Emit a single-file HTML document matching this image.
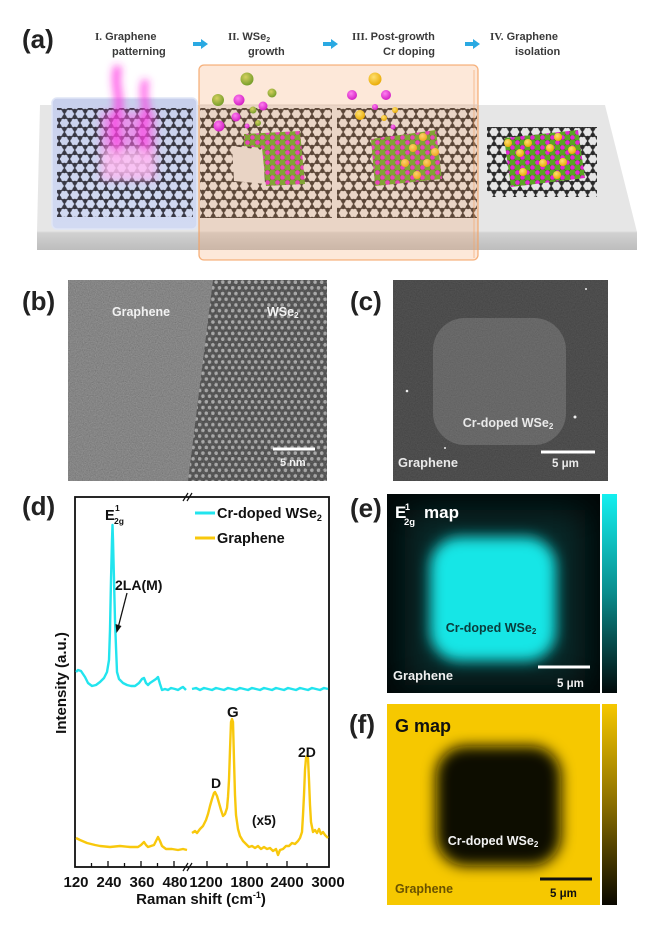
<!DOCTYPE html>
<html><head><meta charset="utf-8"><style>
html,body{margin:0;padding:0;background:#fff;}
svg{display:block;font-family:"Liberation Sans",Arial,sans-serif;}
</style></head><body>
<svg width="650" height="925" viewBox="0 0 650 925" xmlns="http://www.w3.org/2000/svg">
<defs>
<pattern id="hex" patternUnits="userSpaceOnUse" width="10.4" height="18" x="0" y="0">
<path d="M5.2,0 L10.4,3 L10.4,9 L5.2,12 L0,9 L0,3 Z M5.2,12 L5.2,18" fill="none" stroke="#2f2f2f" stroke-width="1.6"/>
<g fill="#2a2a2a"><circle cx="5.2" cy="0" r="2.2"/><circle cx="10.4" cy="3" r="2.2"/><circle cx="10.4" cy="9" r="2.2"/><circle cx="5.2" cy="12" r="2.2"/><circle cx="0" cy="9" r="2.2"/><circle cx="0" cy="3" r="2.2"/><circle cx="5.2" cy="18" r="2.2"/></g>
</pattern>
<pattern id="hexb" patternUnits="userSpaceOnUse" width="10.4" height="18" x="2" y="0">
<path d="M5.2,0 L10.4,3 L10.4,9 L5.2,12 L0,9 L0,3 Z M5.2,12 L5.2,18" fill="none" stroke="#3c3c48" stroke-width="1.6"/>
<g fill="#383844"><circle cx="5.2" cy="0" r="2.2"/><circle cx="10.4" cy="3" r="2.2"/><circle cx="10.4" cy="9" r="2.2"/><circle cx="5.2" cy="12" r="2.2"/><circle cx="0" cy="9" r="2.2"/><circle cx="0" cy="3" r="2.2"/><circle cx="5.2" cy="18" r="2.2"/></g>
</pattern>
<pattern id="wse" patternUnits="userSpaceOnUse" width="10" height="10">
<rect width="10" height="10" fill="#3d7f16"/>
<circle cx="2.5" cy="2.5" r="3.4" fill="#5aa524"/><circle cx="7.5" cy="7.5" r="3.4" fill="#5aa524"/>
<circle cx="7.5" cy="2.5" r="2.3" fill="#e424d4"/><circle cx="2.5" cy="7.5" r="2.3" fill="#e424d4"/>
</pattern>
<pattern id="tem" patternUnits="userSpaceOnUse" width="6.6" height="11.4">
<rect width="6.6" height="11.4" fill="#454545"/>
<circle cx="1.65" cy="2.85" r="1.8" fill="#b8b8b8"/><circle cx="4.95" cy="8.55" r="1.8" fill="#b8b8b8"/>
</pattern>
<filter id="noise" x="0" y="0" width="100%" height="100%" color-interpolation-filters="sRGB">
<feTurbulence type="fractalNoise" baseFrequency="0.85" numOctaves="2" seed="4"/>
<feColorMatrix type="matrix" values="0.33 0.33 0.33 0 0 0.33 0.33 0.33 0 0 0.33 0.33 0.33 0 0 0 0 0 0 1"/>
</filter>
<filter id="blur7" x="-30%" y="-30%" width="160%" height="160%"><feGaussianBlur stdDeviation="7"/></filter>
<filter id="blur4" x="-50%" y="-50%" width="200%" height="200%"><feGaussianBlur stdDeviation="4"/></filter>
<filter id="blur20" x="-50%" y="-50%" width="200%" height="200%"><feGaussianBlur stdDeviation="18"/></filter>
<linearGradient id="front" x1="0" y1="0" x2="0" y2="1"><stop offset="0" stop-color="#d2d2d2"/><stop offset="1" stop-color="#bdbdbd"/></linearGradient>
<linearGradient id="pad" x1="0" y1="0" x2="0" y2="1"><stop offset="0" stop-color="#c8d0ec"/><stop offset="1" stop-color="#d2daf2"/></linearGradient>
<linearGradient id="cbE" x1="0" y1="0" x2="0" y2="1"><stop offset="0" stop-color="#14f0f0"/><stop offset="0.5" stop-color="#0b8c8c"/><stop offset="1" stop-color="#020a0a"/></linearGradient>
<linearGradient id="cbG" x1="0" y1="0" x2="0" y2="1"><stop offset="0" stop-color="#f6c800"/><stop offset="0.5" stop-color="#8a6e00"/><stop offset="1" stop-color="#0a0800"/></linearGradient>
<radialGradient id="sg" cx="0.4" cy="0.35" r="0.7"><stop offset="0" stop-color="#d6d060"/><stop offset="1" stop-color="#6f9a26"/></radialGradient>
<radialGradient id="sm" cx="0.4" cy="0.35" r="0.7"><stop offset="0" stop-color="#ff80f0"/><stop offset="1" stop-color="#d018c0"/></radialGradient>
<radialGradient id="sy" cx="0.4" cy="0.35" r="0.7"><stop offset="0" stop-color="#ffe070"/><stop offset="1" stop-color="#e8a800"/></radialGradient>
<clipPath id="clipB"><rect x="68" y="280" width="259" height="201"/></clipPath>
<clipPath id="clipC"><rect x="393" y="280" width="215" height="201"/></clipPath>
<clipPath id="clipE"><rect x="387" y="494" width="213" height="199"/></clipPath>
<clipPath id="clipF"><rect x="387" y="704" width="213" height="201"/></clipPath>
</defs>

<!-- ===== (a) ===== -->
<text x="22" y="48" font-size="26" font-weight="bold" fill="#222">(a)</text>
<g font-size="11" font-weight="bold" fill="#3a3a3a">
<text x="95" y="40"><tspan font-family="Liberation Serif">I.</tspan> Graphene</text>
<text x="112" y="55">patterning</text>
<text x="228" y="40"><tspan font-family="Liberation Serif">II.</tspan>  WSe<tspan font-size="7" dy="2">2</tspan></text>
<text x="248" y="55">growth</text>
<text x="352" y="40"><tspan font-family="Liberation Serif">III.</tspan> Post-growth</text>
<text x="383" y="55">Cr doping</text>
<text x="490" y="40"><tspan font-family="Liberation Serif">IV.</tspan> Graphene</text>
<text x="515" y="55">isolation</text>
</g>
<g fill="#2aa9e2">
<path d="M193,42 h8 v-3 l7,5 l-7,5 v-3 h-8 z"/>
<path d="M323,42 h8 v-3 l7,5 l-7,5 v-3 h-8 z"/>
<path d="M465,42 h8 v-3 l7,5 l-7,5 v-3 h-8 z"/>
</g>

<polygon points="40,105 605,105 637,232 37,232" fill="#e6e6e6"/>
<rect x="37" y="232" width="600" height="18" fill="url(#front)"/>
<line x1="37" y1="232" x2="637" y2="232" stroke="#d9d9d9" stroke-width="1"/>
<rect x="52" y="98" width="145" height="131" rx="5" fill="url(#pad)" stroke="#dfe5f6" stroke-width="1.5"/>
<rect x="57" y="108" width="136" height="109" fill="url(#hexb)"/>
<rect x="200" y="108" width="132" height="110" fill="url(#hex)"/>
<rect x="337" y="108" width="140" height="110" fill="url(#hex)"/>
<rect x="487" y="127" width="110" height="70" fill="url(#hex)"/>
<polygon points="232,146 263,150 265,184 234,181" fill="#e4e4e4"/>
<polygon points="244,134 300,131 305,184 266,186 262,148 244,146" fill="url(#wse)"/>
<polygon points="371,139 436,130 442,179 375,186" fill="url(#wse)"/>
<polygon points="504,138 578,130 585,178 511,187" fill="url(#wse)"/>
<g fill="url(#sy)">
<circle cx="423" cy="137" r="4"/><circle cx="435" cy="152" r="4"/><circle cx="413" cy="148" r="4"/><circle cx="405" cy="163" r="4"/><circle cx="427" cy="163" r="4"/><circle cx="417" cy="175" r="4"/>
<circle cx="508" cy="143" r="4"/><circle cx="528" cy="143" r="4"/><circle cx="558" cy="137" r="4"/><circle cx="550" cy="148" r="4"/><circle cx="572" cy="150" r="4"/><circle cx="520" cy="153" r="4"/><circle cx="543" cy="163" r="4"/><circle cx="563" cy="162" r="4"/><circle cx="523" cy="172" r="4"/><circle cx="557" cy="175" r="4"/>
</g>
<g filter="url(#blur4)">
<rect x="101" y="112" width="55" height="68" fill="#ff5ae8" opacity="0.5"/>
<path d="M118,66 C112,88 124,98 116,118 C112,130 120,140 116,160" stroke="#ff2ee0" stroke-width="8" fill="none" opacity="0.75"/>
<path d="M146,80 C140,96 150,108 144,124 C140,136 148,146 145,160" stroke="#ff2ee0" stroke-width="7" fill="none" opacity="0.75"/>
<rect x="102" y="150" width="52" height="28" fill="#ffd4f6" opacity="0.7"/>
</g>
<rect x="199" y="65" width="279" height="195" rx="5" fill="#f7a468" fill-opacity="0.25" stroke="#f4a060" stroke-opacity="0.8" stroke-width="1.3"/>
<line x1="474" y1="70" x2="474" y2="258" stroke="#f4a060" stroke-opacity="0.6" stroke-width="1"/>
<line x1="199" y1="105" x2="478" y2="105" stroke="#e0c8b8" stroke-width="1"/>
<circle cx="247" cy="79" r="6.5" fill="url(#sg)"/>
<circle cx="218" cy="100" r="6" fill="url(#sg)"/>
<circle cx="272" cy="93" r="4.5" fill="url(#sg)"/>
<circle cx="253" cy="110" r="3.5" fill="url(#sg)"/>
<circle cx="258" cy="123" r="3" fill="url(#sg)"/>
<circle cx="239" cy="100" r="5.5" fill="url(#sm)"/>
<circle cx="263" cy="106" r="4.5" fill="url(#sm)"/>
<circle cx="236" cy="117" r="4.5" fill="url(#sm)"/>
<circle cx="219" cy="126" r="5.5" fill="url(#sm)"/>
<circle cx="247" cy="126" r="2.5" fill="url(#sm)"/>
<circle cx="375" cy="79" r="6.5" fill="url(#sy)"/>
<circle cx="352" cy="95" r="5" fill="url(#sm)"/>
<circle cx="386" cy="95" r="5" fill="url(#sm)"/>
<circle cx="360" cy="115" r="5" fill="url(#sy)"/>
<circle cx="375" cy="107" r="3" fill="url(#sm)"/>
<circle cx="395" cy="110" r="3" fill="url(#sy)"/>
<circle cx="384" cy="118" r="3" fill="url(#sy)"/>
<circle cx="393" cy="127" r="2.5" fill="url(#sm)"/>

<!-- ===== (b) ===== -->
<text x="22" y="310" font-size="26" font-weight="bold" fill="#222">(b)</text>
<g clip-path="url(#clipB)">
<rect x="68" y="280" width="259" height="201" fill="#888"/>
<polygon points="213,280 327,280 327,481 188,481" fill="url(#tem)"/>
<rect x="68" y="280" width="259" height="201" filter="url(#noise)" opacity="0.28"/>
</g>
<g font-size="12.5" font-weight="bold" fill="#f2f2f2">
<text x="112" y="316" textLength="58" lengthAdjust="spacingAndGlyphs">Graphene</text>
<text x="267" y="316">WSe<tspan font-size="8" dy="2">2</tspan></text>
<text x="280" y="466" font-size="11">5 nm</text>
</g>
<rect x="273" y="447.5" width="42" height="3" fill="#fff"/>

<!-- ===== (c) ===== -->
<text x="350" y="310" font-size="26" font-weight="bold" fill="#222">(c)</text>
<g clip-path="url(#clipC)">
<rect x="393" y="280" width="215" height="201" fill="#444"/>
<rect x="433" y="318" width="133" height="127" rx="32" fill="#646464"/>
<rect x="393" y="280" width="215" height="201" filter="url(#noise)" opacity="0.15"/>
<g fill="#eee"><circle cx="407" cy="391" r="1.3"/><circle cx="575" cy="417" r="1.5"/><circle cx="445" cy="448" r="1"/><circle cx="586" cy="289" r="1"/></g>
</g>
<g font-size="12.5" font-weight="bold" fill="#eaeaea">
<text x="508" y="427" text-anchor="middle">Cr-doped WSe<tspan font-size="8" dy="2">2</tspan></text>
<text x="398" y="467" textLength="60" lengthAdjust="spacingAndGlyphs">Graphene</text>
<text x="552" y="467" font-size="11.5">5 μm</text>
</g>
<rect x="541" y="450.5" width="54" height="3" fill="#fff"/>

<!-- ===== (d) ===== -->
<text x="22" y="515" font-size="26" font-weight="bold" fill="#222">(d)</text>
<rect x="75" y="497" width="254" height="370" fill="none" stroke="#111" stroke-width="1.8"/>
<g stroke="#111" stroke-width="1.2">
<line x1="183" y1="501" x2="188" y2="493"/><line x1="187" y1="501" x2="192" y2="493"/>
<line x1="183" y1="871" x2="188" y2="863"/><line x1="187" y1="871" x2="192" y2="863"/>
</g>
<g stroke="#111" stroke-width="1.3">
<line x1="108" y1="867" x2="108" y2="861"/><line x1="141" y1="867" x2="141" y2="861"/><line x1="174" y1="867" x2="174" y2="861"/>
<line x1="91.5" y1="867" x2="91.5" y2="863"/><line x1="124.5" y1="867" x2="124.5" y2="863"/><line x1="157.5" y1="867" x2="157.5" y2="863"/>
<line x1="207" y1="867" x2="207" y2="861"/><line x1="247" y1="867" x2="247" y2="861"/><line x1="287" y1="867" x2="287" y2="861"/>
<line x1="227" y1="867" x2="227" y2="863"/><line x1="267" y1="867" x2="267" y2="863"/><line x1="307" y1="867" x2="307" y2="863"/>
</g>
<g font-size="15" font-weight="bold" fill="#111" text-anchor="middle">
<text x="76" y="887">120</text><text x="109" y="887">240</text><text x="142" y="887">360</text><text x="175" y="887">480</text>
<text x="206" y="887">1200</text><text x="247" y="887">1800</text><text x="287" y="887">2400</text><text x="328" y="887">3000</text>
<text x="201" y="904">Raman shift (cm<tspan font-size="9" dy="-6">-1</tspan><tspan dy="6">)</tspan></text>
<text transform="translate(66,683) rotate(-90)">Intensity (a.u.)</text>
</g>
<g fill="none" stroke-width="2.4" stroke-linejoin="round">
<path stroke="#22e4ee" d="M76,672 L78,670 L81,671 L85,677 L88,683 L92,686 L96,685 L100,682 L104,678 L107,672 L109,660 L110,630 L111,580 L112,540 L112.5,525 L113,540 L114,580 L115,620 L116,647 L117,672 L119,679 L123,683 L127,685 L131,686 L135,686 L139,683 L142,679 L144,678 L146,683 L148,685 L150,683 L153,681 L156,679 L158,677 L160,684 L162,690 L165,689 L168,690 L171,688 L175,689 L178,690 L181,688 L183,687 L186,690"/>
<path stroke="#22e4ee" d="M192,689 L196,688 L200,690 L204,688 L208,689 L212,690 L216,688 L220,689 L224,690 L228,688 L232,689 L236,690 L240,688 L244,689 L248,690 L252,688 L256,689 L260,690 L264,688 L268,689 L272,690 L276,688 L280,689 L284,690 L288,688 L292,689 L296,690 L300,688 L304,689 L308,690 L312,688 L316,689 L320,690 L324,688 L328,689"/>
<path stroke="#f8c80c" d="M76,838 L80,840 L87,843 L95,845 L100,846 L110,847 L120,846 L130,847 L138,847 L141,845 L144,842 L146,845 L148,847 L151,846 L154,845 L156,841 L158,837 L160,841 L162,846 L166,849 L172,849 L178,850 L183,849 L187,850"/>
<path stroke="#f8c80c" d="M192,833 L195,831 L197,833 L200,829 L203,826 L206,820 L208,814 L210,806 L212,799 L214,793 L215,792 L217,796 L219,803 L221,810 L223,816 L225,814 L227,808 L228,797 L229,780 L230,750 L231,722 L232,719 L233,722 L234,760 L235,795 L236,815 L238,829 L240,836 L243,841 L246,844 L249,847 L252,846 L255,848 L258,846 L261,849 L264,847 L267,849 L270,848 L273,851 L276,849 L278,855 L280,850 L283,849 L286,846 L289,846 L292,843 L295,844 L298,841 L300,838 L302,832 L303,815 L304,795 L305,770 L306,758 L307,756 L308,758 L309,780 L310,805 L311,822 L313,832 L315,830 L317,833 L319,829 L321,834 L323,832 L325,835 L327,837 L328,838"/>
</g>
<line x1="195" y1="513" x2="215" y2="513" stroke="#22e4ee" stroke-width="3"/>
<line x1="195" y1="538" x2="215" y2="538" stroke="#f8c80c" stroke-width="3"/>
<g font-size="14.5" font-weight="bold" fill="#111">
<text x="217" y="518">Cr-doped WSe<tspan font-size="9" dy="3">2</tspan></text>
<text x="217" y="543">Graphene</text>
<text x="105" y="520">E</text>
<text x="115" y="511" font-size="8.5">1</text>
<text x="114" y="524" font-size="8.5">2g</text>
<text x="115" y="590" font-size="14">2LA(M)</text>
<text x="227" y="717" font-size="15">G</text>
<text x="211" y="788" font-size="14">D</text>
<text x="298" y="757" font-size="14">2D</text>
<text x="252" y="825" font-size="13.5">(x5)</text>
</g>
<line x1="127" y1="593" x2="118.5" y2="626" stroke="#111" stroke-width="1.3"/>
<path d="M116.5,633 L115.5,624 L121.5,626 Z" fill="#111"/>

<!-- ===== (e) ===== -->
<text x="350" y="517" font-size="26" font-weight="bold" fill="#222">(e)</text>
<g clip-path="url(#clipE)">
<rect x="387" y="494" width="213" height="199" fill="#020606"/>
<rect x="405" y="510" width="180" height="175" fill="#0d4a4a" opacity="0.55" filter="url(#blur20)"/>
<rect x="430" y="537" width="126" height="124" rx="30" fill="#12e6e6" filter="url(#blur7)"/>
</g>
<rect x="602" y="494" width="15" height="199" fill="url(#cbE)"/>
<g font-weight="bold">
<text x="395" y="518" font-size="17" fill="#fff">E</text>
<text x="405" y="510" font-size="9" fill="#fff">1</text>
<text x="404" y="525" font-size="9.5" fill="#fff">2g</text>
<text x="424" y="518" font-size="17" fill="#fff">map</text>
<text x="491" y="632" font-size="12.5" fill="#0a3c3c" text-anchor="middle">Cr-doped WSe<tspan font-size="8" dy="2">2</tspan></text>
<text x="393" y="680" font-size="12.5" fill="#f0f0f0" textLength="60" lengthAdjust="spacingAndGlyphs">Graphene</text>
<text x="557" y="687" font-size="11.5" fill="#f0f0f0">5 μm</text>
</g>
<rect x="538" y="665.5" width="52" height="3" fill="#fff"/>

<!-- ===== (f) ===== -->
<text x="349" y="733" font-size="26" font-weight="bold" fill="#222">(f)</text>
<g clip-path="url(#clipF)">
<rect x="387" y="704" width="213" height="201" fill="#f6c800"/>
<rect x="436" y="746" width="125" height="120" rx="30" fill="#0a0700" filter="url(#blur7)"/>
</g>
<rect x="602" y="704" width="15" height="201" fill="url(#cbG)"/>
<g font-weight="bold">
<text x="395" y="732" font-size="18" fill="#111">G map</text>
<text x="493" y="845" font-size="12.5" fill="#f2f2f2" text-anchor="middle">Cr-doped WSe<tspan font-size="8" dy="2">2</tspan></text>
<text x="395" y="893" font-size="12.5" fill="#6a5200" textLength="58" lengthAdjust="spacingAndGlyphs">Graphene</text>
<text x="550" y="897" font-size="11.5" fill="#111">5 μm</text>
</g>
<rect x="540" y="877.5" width="52" height="3" fill="#111"/>
</svg>
</body></html>
